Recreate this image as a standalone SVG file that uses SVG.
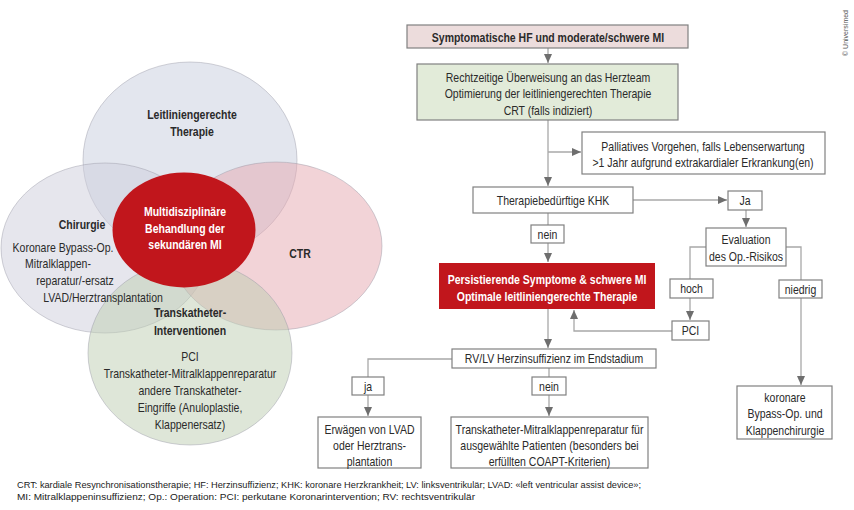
<svg xmlns="http://www.w3.org/2000/svg" width="854" height="510" viewBox="0 0 854 510">
<style>
.t{font-family:"Liberation Sans",Arial,sans-serif;font-size:12.8px;fill:#2a2a2a;text-anchor:middle}
.b{font-weight:bold}
.w{fill:#ffffff}
.box{fill:#ffffff;stroke:#808080;stroke-width:1.2}
.c{fill:none;stroke:#a8a8a8;stroke-width:1.3}
.fn{font-family:"Liberation Sans",Arial,sans-serif;font-size:9px;fill:#222}
.ell{stroke:#9a9aa6;stroke-opacity:0.45;stroke-width:1}
</style>
<defs>
<marker id="ah" markerUnits="userSpaceOnUse" markerWidth="10" markerHeight="8" refX="9" refY="4" orient="auto">
<path d="M0,0 L9,4 L0,8 z" fill="#6e6e6e"/>
</marker>
</defs>
<rect width="854" height="510" fill="#ffffff"/>

<g id="venn">
<g id="v-top"><ellipse class="ell" cx="190" cy="160" rx="107" ry="98" fill="rgb(200,205,222)" fill-opacity="0.5"/></g>
<g id="v-left"><ellipse class="ell" cx="105" cy="248" rx="104" ry="85" fill="rgb(205,205,220)" fill-opacity="0.5"/></g>
<g id="v-ctr"><ellipse class="ell" cx="276" cy="246" rx="106" ry="84" fill="rgb(230,168,176)" fill-opacity="0.5"/></g>
<g id="v-tk"><ellipse class="ell" cx="190" cy="353" rx="102" ry="92" fill="rgb(190,205,178)" fill-opacity="0.5"/></g>
<g id="v-center"><ellipse cx="184" cy="230" rx="71.5" ry="57.5" fill="#c1161c"/></g>
<g id="v-texts">
<text class="t b" transform="translate(192,119) scale(0.82,1)">Leitliniengerechte</text>
<text class="t b" transform="translate(192,136) scale(0.82,1)">Therapie</text>
<text class="t b w" transform="translate(185,215.5) scale(0.82,1)">Multidisziplinäre</text>
<text class="t b w" transform="translate(185,232.5) scale(0.82,1)">Behandlung der</text>
<text class="t b w" transform="translate(185,249) scale(0.82,1)">sekundären MI</text>
<text class="t b" transform="translate(82,228.5) scale(0.82,1)">Chirurgie</text>
<text class="t" transform="translate(63,251.5) scale(0.82,1)">Koronare Bypass-Op.</text>
<text class="t" transform="translate(58,268) scale(0.82,1)">Mitralklappen-</text>
<text class="t" transform="translate(75,284.5) scale(0.82,1)">reparatur/-ersatz</text>
<text class="t" transform="translate(103,301.5) scale(0.82,1)">LVAD/Herztransplantation</text>
<text class="t b" transform="translate(300,257.5) scale(0.82,1)">CTR</text>
<text class="t b" transform="translate(190,316.5) scale(0.82,1)">Transkatheter-</text>
<text class="t b" transform="translate(190,334.5) scale(0.82,1)">Interventionen</text>
<text class="t" transform="translate(190,360.5) scale(0.82,1)">PCI</text>
<text class="t" transform="translate(190,377.5) scale(0.82,1)">Transkatheter-Mitralklappenreparatur</text>
<text class="t" transform="translate(190,395) scale(0.82,1)">andere Transkatheter-</text>
<text class="t" transform="translate(190,411.5) scale(0.82,1)">Eingriffe (Anuloplastie,</text>
<text class="t" transform="translate(190,428.5) scale(0.82,1)">Klappenersatz)</text>
</g>
</g>

<g id="connectors">
<line class="c" x1="548" y1="48" x2="548" y2="63" marker-end="url(#ah)"/>
<line class="c" x1="548" y1="120" x2="548" y2="186" marker-end="url(#ah)"/>
<line class="c" x1="548" y1="152" x2="581" y2="152" marker-end="url(#ah)"/>
<line class="c" x1="633" y1="200" x2="727" y2="200" marker-end="url(#ah)"/>
<line class="c" x1="746" y1="210" x2="746" y2="227" marker-end="url(#ah)"/>
<polyline class="c" points="706,247 690,247 690,279"/>
<polyline class="c" points="786,247 801,247 801,280"/>
<line class="c" x1="690" y1="298" x2="690" y2="320" marker-end="url(#ah)"/>
<polyline class="c" points="672,331 574,331 574,310" marker-end="url(#ah)"/>
<line class="c" x1="801" y1="298" x2="801" y2="385" marker-end="url(#ah)"/>
<line class="c" x1="548" y1="213" x2="548" y2="225"/>
<line class="c" x1="548" y1="243" x2="548" y2="262" marker-end="url(#ah)"/>
<line class="c" x1="548" y1="309" x2="548" y2="348" marker-end="url(#ah)"/>
<polyline class="c" points="452,359 368,359 368,377"/>
<line class="c" x1="368" y1="395" x2="368" y2="416" marker-end="url(#ah)"/>
<line class="c" x1="549" y1="368" x2="549" y2="377"/>
<line class="c" x1="549" y1="395" x2="549" y2="416" marker-end="url(#ah)"/>
</g>

<g id="n-start">
<rect x="407" y="25" width="281" height="23" fill="#ecdcdc" stroke="#808080" stroke-width="1.2"/>
<text class="t b" transform="translate(548,41.5) scale(0.82,1)">Symptomatische HF und moderate/schwere MI</text>
</g>
<g id="n-herzteam">
<rect x="417" y="64" width="261" height="56" fill="#e2ebd9" stroke="#808080" stroke-width="1.2"/>
<text class="t" transform="translate(548,81.5) scale(0.82,1)">Rechtzeitige Überweisung an das Herzteam</text>
<text class="t" transform="translate(548,98) scale(0.82,1)">Optimierung der leitliniengerechten Therapie</text>
<text class="t" transform="translate(548,114.5) scale(0.82,1)">CRT (falls indiziert)</text>
</g>
<g id="n-palliativ">
<rect class="box" x="582" y="132" width="243" height="42"/>
<text class="t" transform="translate(703,150.5) scale(0.82,1)">Palliatives Vorgehen, falls Lebenserwartung</text>
<text class="t" transform="translate(703,167) scale(0.82,1)">&gt;1 Jahr aufgrund extrakardialer Erkrankung(en)</text>
</g>
<g id="n-khk">
<rect class="box" x="473" y="187" width="160" height="26"/>
<text class="t" transform="translate(553,204.5) scale(0.82,1)">Therapiebedürftige KHK</text>
</g>
<g id="n-ja1">
<rect class="box" x="728" y="191" width="34" height="19"/>
<text class="t" transform="translate(745,205) scale(0.82,1)">Ja</text>
</g>
<g id="n-eval">
<rect class="box" x="706" y="228" width="80" height="38"/>
<text class="t" transform="translate(746,243.5) scale(0.82,1)">Evaluation</text>
<text class="t" transform="translate(746,260.5) scale(0.82,1)">des Op.-Risikos</text>
</g>
<g id="n-hoch">
<rect class="box" x="670" y="279" width="43" height="19"/>
<text class="t" transform="translate(691.5,293) scale(0.82,1)">hoch</text>
</g>
<g id="n-pci">
<rect class="box" x="672" y="321" width="37" height="19"/>
<text class="t" transform="translate(690.5,335) scale(0.82,1)">PCI</text>
</g>
<g id="n-niedrig">
<rect class="box" x="779" y="280" width="43" height="18"/>
<text class="t" transform="translate(800.5,293.5) scale(0.82,1)">niedrig</text>
</g>
<g id="n-koronar">
<rect class="box" x="737" y="386" width="95" height="53"/>
<text class="t" transform="translate(785,401.5) scale(0.82,1)">koronare</text>
<text class="t" transform="translate(785,418) scale(0.82,1)">Bypass-Op. und</text>
<text class="t" transform="translate(785,434.5) scale(0.82,1)">Klappenchirurgie</text>
</g>
<g id="n-nein1">
<rect class="box" x="531" y="225" width="33" height="18"/>
<text class="t" transform="translate(547.5,238.5) scale(0.82,1)">nein</text>
</g>
<g id="n-persist">
<rect x="439" y="263" width="216" height="46" fill="#c1161c"/>
<text class="t b w" transform="translate(547,283.5) scale(0.82,1)">Persistierende Symptome &amp; schwere MI</text>
<text class="t b w" transform="translate(547,300.5) scale(0.82,1)">Optimale leitliniengerechte Therapie</text>
</g>
<g id="n-rvlv">
<rect class="box" x="452" y="349" width="204" height="19"/>
<text class="t" transform="translate(554,363) scale(0.82,1)">RV/LV Herzinsuffizienz im Endstadium</text>
</g>
<g id="n-ja2">
<rect class="box" x="352" y="377" width="32" height="18"/>
<text class="t" transform="translate(368,390.5) scale(0.82,1)">ja</text>
</g>
<g id="n-nein2">
<rect class="box" x="532" y="377" width="34" height="18"/>
<text class="t" transform="translate(549,390.5) scale(0.82,1)">nein</text>
</g>
<g id="n-lvad">
<rect class="box" x="318" y="417" width="103" height="51"/>
<text class="t" transform="translate(369.5,433.5) scale(0.82,1)">Erwägen von LVAD</text>
<text class="t" transform="translate(369.5,450) scale(0.82,1)">oder Herztrans-</text>
<text class="t" transform="translate(369.5,465.5) scale(0.82,1)">plantation</text>
</g>
<g id="n-tmvr">
<rect class="box" x="451" y="417" width="197" height="51"/>
<text class="t" transform="translate(549.5,433.5) scale(0.82,1)">Transkatheter-Mitralklappenreparatur für</text>
<text class="t" transform="translate(549.5,450) scale(0.82,1)">ausgewählte Patienten (besonders bei</text>
<text class="t" transform="translate(549.5,465.5) scale(0.82,1)">erfüllten COAPT-Kriterien)</text>
</g>

<g id="footnote">
<text class="fn" x="17" y="488" textLength="624" lengthAdjust="spacingAndGlyphs">CRT: kardiale Resynchronisationstherapie; HF: Herzinsuffizienz; KHK: koronare Herzkrankheit; LV: linksventrikulär; LVAD: «left ventricular assist device»;</text>
<text class="fn" x="17" y="500" textLength="458" lengthAdjust="spacingAndGlyphs">MI: Mitralklappeninsuffizienz; Op.: Operation: PCI: perkutane Koronarintervention; RV: rechtsventrikulär</text>
</g>
<g id="copyright">
<text transform="translate(847.5,56) rotate(-90)" font-family="'Liberation Sans',Arial,sans-serif" font-size="7" fill="#555">© Universimed</text>
</g>
</svg>
